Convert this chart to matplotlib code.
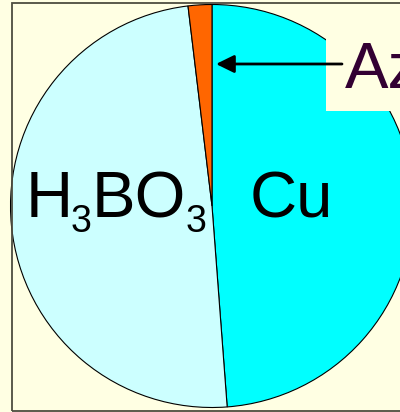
import matplotlib
matplotlib.use("Agg")
import matplotlib.pyplot as plt
from matplotlib.patches import Rectangle

labels = ["Cu", "H3BO3", "Az"]
values = [48.8, 49.3, 1.9]
colors = ["#00FFFF", "#CCFFFF", "#FF6600"]

bg = "#FFFFE3"
plt.rcParams["font.family"] = ["Liberation Sans", "DejaVu Sans"]

fig = plt.figure(figsize=(4, 4.12), dpi=100, facecolor=bg)
ax = fig.add_axes([0, 0, 1, 1])
ax.set_facecolor(bg)

# pixel coords, y up
wedges, _ = ax.pie(values, colors=colors, startangle=90, counterclock=False,
                   center=(212, 206), radius=201.5, frame=True,
                   wedgeprops=dict(edgecolor="black", linewidth=0.8))
ax.set_xlim(0, 400)
ax.set_ylim(0, 412)
ax.set_aspect("auto")
ax.axis("off")

# frame of the plot area
ax.add_patch(Rectangle((12, 1), 420, 408, fill=False, edgecolor="#4d4d40",
                       linewidth=1.3, zorder=5))

# box behind the Az label
ax.add_patch(Rectangle((326, 301), 80, 108, facecolor=bg, edgecolor="none",
                       zorder=3))

fs = 47
sub = 27
# H3BO3 written piece by piece so the subscripts sit like the original
ax.text(26, 195, "H", fontsize=fs, ha="left", va="baseline", zorder=4)
ax.text(71, 180, "3", fontsize=sub, ha="left", va="baseline", zorder=4)
ax.text(92, 195, "BO", fontsize=fs, ha="left", va="baseline", zorder=4)
ax.text(186, 180, "3", fontsize=sub, ha="left", va="baseline", zorder=4)

ax.text(250, 195, labels[0], fontsize=fs, ha="left", va="baseline", zorder=4)
ax.text(345, 324, labels[2], fontsize=fs, ha="left", va="baseline",
        color="#330033", zorder=4)

ax.annotate("", xy=(216, 348), xytext=(342, 348),
            arrowprops=dict(arrowstyle="-|>,head_length=1.1,head_width=0.54",
                            mutation_scale=10, lw=2, color="black",
                            shrinkA=0, shrinkB=0), zorder=4)

fig.savefig("out.png", dpi=100, facecolor=bg)
